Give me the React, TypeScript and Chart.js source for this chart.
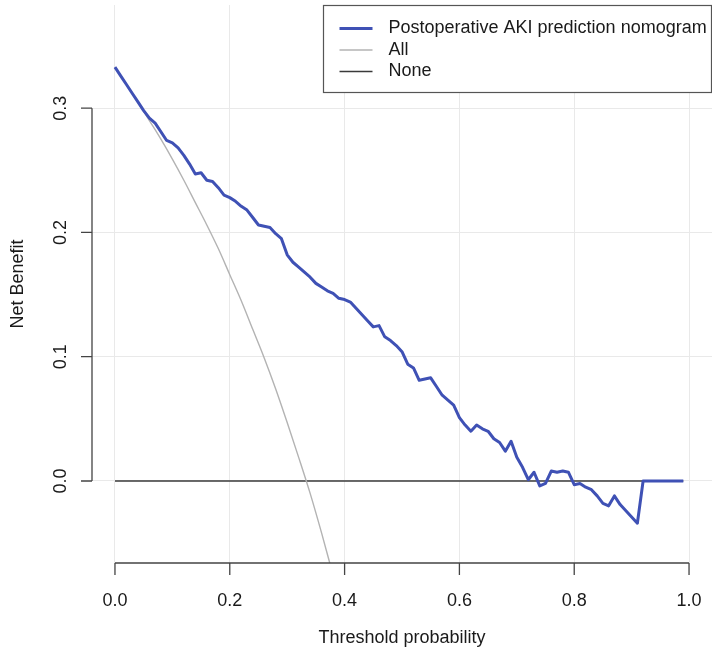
import React, { useEffect, useRef } from "react";
import { Chart, registerables } from "chart.js";

Chart.register(...registerables);

const thresholds = [
  0.0, 0.01, 0.02, 0.03, 0.04, 0.05, 0.06, 0.07, 0.08, 0.09,
  0.1, 0.11, 0.12, 0.13, 0.14, 0.15, 0.16, 0.17, 0.18, 0.19,
  0.2, 0.21, 0.22, 0.23, 0.24, 0.25, 0.26, 0.27, 0.28, 0.29,
  0.3, 0.31, 0.32, 0.33, 0.34, 0.35, 0.36, 0.37, 0.38, 0.39,
  0.4, 0.41, 0.42, 0.43, 0.44, 0.45, 0.46, 0.47, 0.48, 0.49,
  0.5, 0.51, 0.52, 0.53, 0.54, 0.55, 0.56, 0.57, 0.58, 0.59,
  0.6, 0.61, 0.62, 0.63, 0.64, 0.65, 0.66, 0.67, 0.68, 0.69,
  0.7, 0.71, 0.72, 0.73, 0.74, 0.75, 0.76, 0.77, 0.78, 0.79,
  0.8, 0.81, 0.82, 0.83, 0.84, 0.85, 0.86, 0.87, 0.88, 0.89,
  0.9, 0.91, 0.92, 0.93, 0.94, 0.95, 0.96, 0.97, 0.98, 0.99,
];

const nomogramBenefit = [
  0.333, 0.326, 0.319, 0.312, 0.305, 0.298, 0.292, 0.288, 0.281, 0.274,
  0.272, 0.268, 0.262, 0.255, 0.247, 0.248, 0.242, 0.241, 0.236, 0.23,
  0.228, 0.225, 0.221, 0.218, 0.212, 0.206, 0.205, 0.204, 0.199, 0.195,
  0.182, 0.176, 0.172, 0.168, 0.164, 0.159, 0.156, 0.153, 0.151, 0.147,
  0.146, 0.144, 0.139, 0.134, 0.129, 0.124, 0.125, 0.116, 0.113, 0.109,
  0.104, 0.094, 0.091, 0.081, 0.082, 0.083, 0.076, 0.069, 0.065, 0.061,
  0.051, 0.045, 0.04, 0.045, 0.042, 0.04, 0.034, 0.031, 0.024, 0.032,
  0.019, 0.011, 0.001, 0.007, -0.004, -0.002, 0.008, 0.007, 0.008, 0.007,
  -0.003, -0.002, -0.005, -0.007, -0.012, -0.018, -0.02, -0.012, -0.019, -0.024,
  -0.029, -0.034, 0.0, 0.0, 0.0, 0.0, 0.0, 0.0, 0.0, 0.0,
];

const allThresholds = [
  0.0, 0.02, 0.04, 0.06, 0.08, 0.1, 0.12, 0.14, 0.16, 0.18,
  0.2, 0.22, 0.24, 0.26, 0.28, 0.3, 0.32, 0.34, 0.36, 0.38,
];
const allBenefit = [
  0.333, 0.319, 0.305, 0.29, 0.275, 0.259, 0.242, 0.224, 0.206, 0.187,
  0.166, 0.145, 0.122, 0.099, 0.074, 0.047, 0.019, -0.01, -0.042, -0.076,
];

const noneThresholds = [0.0, 0.99];
const noneBenefit = [0.0, 0.0];

const xTickValues = [0.0, 0.2, 0.4, 0.6, 0.8, 1.0];
const xTickLabels = ["0.0", "0.2", "0.4", "0.6", "0.8", "1.0"];
const yTickValues = [0.0, 0.1, 0.2, 0.3];
const yTickLabels = ["0.0", "0.1", "0.2", "0.3"];

const seriesNames = ["Postoperative AKI prediction nomogram", "All", "None"];
const seriesColors = ["#3f51b5", "#b3b3b3", "#3a3a3a"];
const seriesWidths = [3, 1.4, 1.6];

const xTitle = "Threshold probability";
const yTitle = "Net Benefit";

const FONT = '"Liberation Sans", Arial, Helvetica, sans-serif';

const rAxesPlugin = {
  id: "rAxes",
  afterDraw(chart: any) {
    const ctx = chart.ctx;
    const area = chart.chartArea;
    const xs = chart.scales.x;
    const ys = chart.scales.y;
    ctx.save();
    ctx.strokeStyle = "#444";
    ctx.lineWidth = 1.3;
    ctx.fillStyle = "#1a1a1a";
    ctx.font = `18px ${FONT}`;

    // y axis
    const yAxisX = area.left;
    ctx.beginPath();
    ctx.moveTo(yAxisX, ys.getPixelForValue(yTickValues[0]));
    ctx.lineTo(yAxisX, ys.getPixelForValue(yTickValues[yTickValues.length - 1]));
    yTickValues.forEach((v) => {
      const py = ys.getPixelForValue(v);
      ctx.moveTo(yAxisX, py);
      ctx.lineTo(yAxisX - 11, py);
    });
    ctx.stroke();
    yTickValues.forEach((v, i) => {
      const py = ys.getPixelForValue(v);
      ctx.save();
      ctx.translate(yAxisX - 31, py);
      ctx.rotate(-Math.PI / 2);
      ctx.textAlign = "center";
      ctx.textBaseline = "middle";
      ctx.fillText(yTickLabels[i], 0, 0);
      ctx.restore();
    });

    // x axis
    const xAxisY = area.bottom;
    ctx.beginPath();
    ctx.moveTo(xs.getPixelForValue(xTickValues[0]), xAxisY);
    ctx.lineTo(xs.getPixelForValue(xTickValues[xTickValues.length - 1]), xAxisY);
    xTickValues.forEach((v) => {
      const px = xs.getPixelForValue(v);
      ctx.moveTo(px, xAxisY);
      ctx.lineTo(px, xAxisY + 12);
    });
    ctx.stroke();
    xTickValues.forEach((v, i) => {
      const px = xs.getPixelForValue(v);
      ctx.textAlign = "center";
      ctx.textBaseline = "middle";
      ctx.fillText(xTickLabels[i], px, xAxisY + 38);
    });

    // titles
    ctx.textAlign = "center";
    ctx.textBaseline = "middle";
    ctx.fillText(xTitle, (area.left + area.right) / 2, xAxisY + 75);
    ctx.save();
    ctx.translate(18, (area.top + area.bottom) / 2);
    ctx.rotate(-Math.PI / 2);
    ctx.fillText(yTitle, 0, 0);
    ctx.restore();

    // legend (top right of plot region)
    const boxW = 388;
    const boxH = 87;
    const bx = area.right - boxW - 0.5;
    const by = area.top + 0.5;
    ctx.fillStyle = "#fff";
    ctx.fillRect(bx, by, boxW, boxH);
    ctx.strokeStyle = "#555";
    ctx.lineWidth = 1.2;
    ctx.strokeRect(bx, by, boxW, boxH);
    seriesNames.forEach((name, i) => {
      const ry = by + 23 + i * 21.5;
      ctx.strokeStyle = seriesColors[i];
      ctx.lineWidth = seriesWidths[i];
      ctx.beginPath();
      ctx.moveTo(bx + 16, ry);
      ctx.lineTo(bx + 49, ry);
      ctx.stroke();
      ctx.fillStyle = "#1a1a1a";
      ctx.textAlign = "left";
      ctx.textBaseline = "middle";
      ctx.fillText(name, bx + 65, ry);
    });
    ctx.restore();
  },
};

export default function App() {
  const canvasRef = useRef<HTMLCanvasElement | null>(null);

  useEffect(() => {
    document.body.style.margin = "0";
    const canvas = canvasRef.current;
    if (!canvas) return;
    const toPts = (xs: number[], ys: number[]) => xs.map((x, i) => ({ x, y: ys[i] }));
    const chart = new Chart(canvas, {
      type: "line",
      data: {
        datasets: [
          {
            label: seriesNames[2],
            data: toPts(noneThresholds, noneBenefit),
            borderColor: seriesColors[2],
            borderWidth: seriesWidths[2],
            pointRadius: 0,
            order: 3,
          },
          {
            label: seriesNames[1],
            data: toPts(allThresholds, allBenefit),
            borderColor: seriesColors[1],
            borderWidth: seriesWidths[1],
            pointRadius: 0,
            cubicInterpolationMode: "monotone",
            order: 2,
          },
          {
            label: seriesNames[0],
            data: toPts(thresholds, nomogramBenefit),
            borderColor: seriesColors[0],
            borderWidth: seriesWidths[0],
            pointRadius: 0,
            borderJoinStyle: "round",
            order: 1,
          },
        ],
      },
      options: {
        responsive: false,
        animation: false,
        devicePixelRatio: 1,
        layout: { padding: { left: 92, top: 5, right: 0, bottom: 88 } },
        plugins: { legend: { display: false }, tooltip: { enabled: false } },
        scales: {
          x: {
            type: "linear",
            min: -0.04,
            max: 1.04,
            afterBuildTicks: (scale: any) => {
              scale.ticks = xTickValues.map((v) => ({ value: v }));
            },
            ticks: { display: false },
            border: { display: false },
            grid: { color: "#e9e9e9", lineWidth: 1, drawTicks: false },
          },
          y: {
            type: "linear",
            min: -0.066,
            max: 0.383,
            afterBuildTicks: (scale: any) => {
              scale.ticks = yTickValues.map((v) => ({ value: v }));
            },
            ticks: { display: false },
            border: { display: false },
            grid: { color: "#e9e9e9", lineWidth: 1, drawTicks: false },
          },
        },
      },
      plugins: [rAxesPlugin],
    });
    return () => chart.destroy();
  }, []);

  return (
    <canvas
      ref={canvasRef}
      width={712}
      height={651}
      style={{ display: "block", width: 712, height: 651 }}
    />
  );
}
